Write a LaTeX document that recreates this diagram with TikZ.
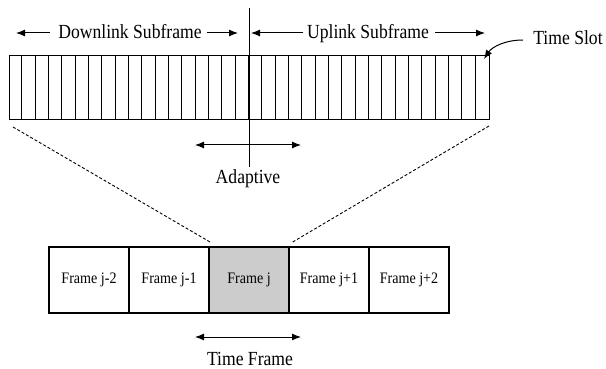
\documentclass[tikz,border=0pt]{standalone}
\usepackage{fontspec}
\setmainfont{Liberation Serif}[FakeStretch=0.88]
\usetikzlibrary{arrows.meta}
\begin{document}
\begin{tikzpicture}[x=1pt,y=-1pt,
  lab/.style={font=\fontsize{20}{22}\selectfont, inner sep=0pt, anchor=base},
  frm/.style={draw, line width=1.1pt, minimum width=80pt, minimum height=66pt, inner sep=0pt, font=\fontsize{16}{18}\selectfont},
  arr/.style={-{Latex[length=9pt,width=7pt]}, line width=1pt},
  darr/.style={{Latex[length=9pt,width=7pt]}-{Latex[length=9pt,width=7pt]}, line width=1pt},
  dline/.style={line width=0.9pt, dash pattern=on 3pt off 2pt},
  slot/.style={line width=0.9pt}]
\useasboundingbox (0,0) rectangle (606,369);
% top slotted bar
\node[draw, line width=1pt, minimum width=480pt, minimum height=64pt, inner sep=0pt] (bar) at (249,88) {};
\foreach \i in {1,...,35}
  \draw[slot] ([xshift=\i*13.333pt]bar.north west) -- ([xshift=\i*13.333pt]bar.south west);
% divider
\coordinate (dtop) at (249,8);
\coordinate (dbot) at (249,167);
\draw[line width=1pt] (dtop) -- (dbot);
% top labels
\node[lab] (dl) at (130,39) {Downlink Subframe};
\node[lab] (ul) at (368,39) {Uplink Subframe};
\coordinate (a1s) at (50,33);  \coordinate (a1e) at (16,33);
\coordinate (a2s) at (207,33); \coordinate (a2e) at (238,33);
\coordinate (a3s) at (303,33); \coordinate (a3e) at (251,33);
\coordinate (a4s) at (435,33); \coordinate (a4e) at (485,33);
\draw[arr] (a1s) -- (a1e);
\draw[arr] (a2s) -- (a2e);
\draw[arr] (a3s) -- (a3e);
\draw[arr] (a4s) -- (a4e);
% time slot
\node[lab] (ts) at (568,45) {Time Slot};
\coordinate (tss) at (523,40);
\coordinate (tse) at (484,59);
\draw[arr] (tss) .. controls (505,40) and (492,47) .. (tse);
% adaptive
\coordinate (adl) at (195,145); \coordinate (adr) at (301,145);
\draw[darr] (adl) -- (adr);
\node[lab] (ad) at (248,183) {Adaptive};
% frames
\node[frm] (f1) at (89,280) {Frame j-2};
\node[frm] (f2) at (169,280) {Frame j-1};
\node[frm, fill=gray!40] (f3) at (249,280) {Frame j};
\node[frm] (f4) at (329,280) {Frame j+1};
\node[frm] (f5) at (409,280) {Frame j+2};
% dashed zoom lines
\coordinate (dl1) at (13,127); \coordinate (dl2) at (210,242);
\coordinate (dr1) at (489,126); \coordinate (dr2) at (291,243);
\draw[dline] (dl1) -- (dl2);
\draw[dline] (dr1) -- (dr2);
% time frame
\coordinate (tfl) at (195,337); \coordinate (tfr) at (301,337);
\draw[darr] (tfl) -- (tfr);
\node[lab] (tf) at (250,365) {Time Frame};
\end{tikzpicture}
\end{document}
